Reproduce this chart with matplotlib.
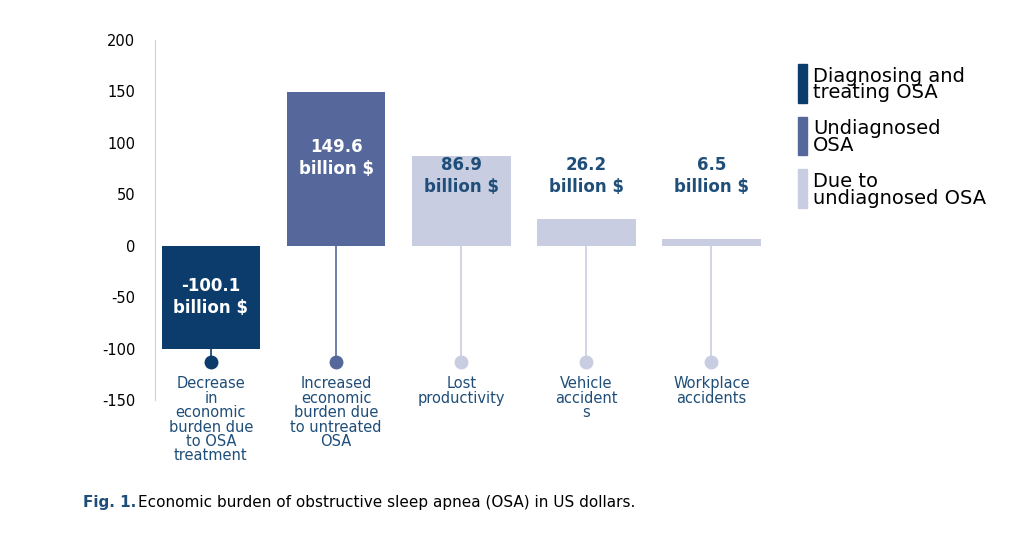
import matplotlib
matplotlib.use("Agg")
import matplotlib.pyplot as plt
from matplotlib.patches import Rectangle
plt.rcParams["axes.unicode_minus"] = False

categories = ["Decrease\nin\neconomic\nburden due\nto OSA\ntreatment",
              "Increased\neconomic\nburden due\nto untreated\nOSA",
              "Lost\nproductivity", "Vehicle\naccident\ns", "Workplace\naccidents"]
values = [-100.1, 149.6, 86.9, 26.2, 6.5]
value_labels = ["-100.1\nbillion $", "149.6\nbillion $", "86.9\nbillion $", "26.2\nbillion $", "6.5\nbillion $"]
legend_labels = ["Diagnosing and\ntreating OSA", "Undiagnosed\nOSA", "Due to\nundiagnosed OSA"]
yticks = [200, 150, 100, 50, 0, -50, -100, -150]

c_dark, c_mid, c_light = "#0b3c6c", "#56689b", "#c8cde1"
colors = [c_dark, c_mid, c_light, c_light, c_light]
txt = "#1f4e79"

fig = plt.figure(figsize=(10.24, 5.55), dpi=100)
ax = fig.add_axes([0.151, 0.279, 0.611, 0.649])
x = list(range(len(values)))
ax.bar(x, values, width=0.79, color=colors, zorder=2)
stem_y = -113
for i, v in enumerate(values):
    top = min(v, 0)
    ax.plot([i, i], [top, stem_y], color=colors[i], lw=1.2, zorder=1)
    ax.plot(i, stem_y, "o", color=colors[i], ms=9, zorder=3)
    ax.text(i, -127, categories[i], ha="center", va="top", color=txt, fontsize=10.5, linespacing=0.95)
lab_y = [-50, 85, 68, 68, 68]
for i, l in enumerate(value_labels):
    ax.text(i, lab_y[i], l, ha="center", va="center", fontsize=12, fontweight="bold",
            color="white" if i < 2 else txt, linespacing=1.3)
ax.set_ylim(-150, 200)
ax.set_xlim(-0.45, 4.55)
ax.set_yticks(yticks)
ax.tick_params(axis="y", length=0, labelsize=10.5, pad=14)
ax.set_xticks([])
for s in ["top", "right", "bottom"]:
    ax.spines[s].set_visible(False)
ax.spines["left"].set_color("#d0d0d0")

leg_y = [0.88, 0.785, 0.69]
for c, l, yy in zip([c_dark, c_mid, c_light], legend_labels, leg_y):
    fig.patches.append(Rectangle((0.779, yy - 0.065), 0.009, 0.07, color=c, transform=fig.transFigure))
    fig.text(0.794, yy, l, fontsize=14, va="top", ha="left", color="black", linespacing=0.85)

fig.text(0.081, 0.087, "Fig. 1.", fontsize=11, fontweight="bold", color=txt)
fig.text(0.135, 0.087, "Economic burden of obstructive sleep apnea (OSA) in US dollars.", fontsize=11, color="black")
fig.savefig("out.png", dpi=100)
